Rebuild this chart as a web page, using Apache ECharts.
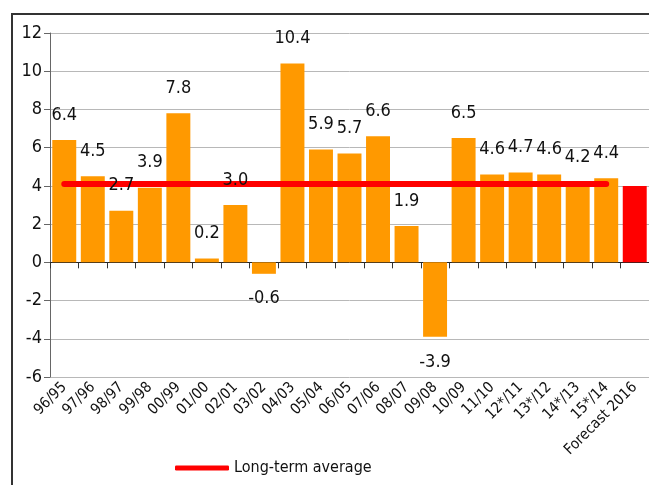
<!DOCTYPE html>
<html>
<head>
<meta charset="utf-8">
<script src="https://cdn.jsdelivr.net/npm/echarts@6/dist/echarts.min.js"></script>
<style>html,body{margin:0;padding:0;background:#fff}#c{width:649px;height:485px}</style>
</head>
<body>
<div id="c"></div>
<script>
var categories = ['96/95','97/96','98/97','99/98','00/99','01/00','02/01','03/02','04/03','05/04','06/05','07/06','08/07','09/08','10/09','11/10','12*/11','13*/12','14*/13','15*/14','Forecast 2016'];
var growth = [6.4, 4.5, 2.7, 3.9, 7.8, 0.2, 3.0, -0.6, 10.4, 5.9, 5.7, 6.6, 1.9, -3.9, 6.5, 4.6, 4.7, 4.6, 4.2, 4.4, 4.0];
var labelled = [true,true,true,true,true,true,true,true,true,true,true,true,true,true,true,true,true,true,true,true,false];
var forecastIndex = 20;
var longTermAverage = [4.1,4.1,4.1,4.1,4.1,4.1,4.1,4.1,4.1,4.1,4.1,4.1,4.1,4.1,4.1,4.1,4.1,4.1,4.1,4.1,null];
var yTicks = {min: -6, max: 12, interval: 2};

var FONT = "'Liberation Sans Narrow','Arial Narrow','DejaVu Sans Condensed',sans-serif";
var chart = echarts.init(document.getElementById('c'), null, {renderer: 'canvas'});

var barData = growth.map(function (v, i) {
  return i === forecastIndex ? {value: v, itemStyle: {color: '#FF0000'}} : v;
});
var labelData = growth.map(function (v, i) {
  return {
    value: v,
    label: {
      show: labelled[i],
      position: v < 0 ? 'bottom' : 'top'
    }
  };
});

chart.setOption({
  animation: false,
  backgroundColor: '#fff',
  graphic: [
    {type: 'polyline', shape: {points: [[12, 486], [12, 14], [650, 14]]}, style: {stroke: '#333', lineWidth: 2, fill: null}}
  ],
  grid: {left: 50, right: 0, top: 33, bottom: 108, containLabel: false},
  legend: {
    data: ['Long-term average'],
    left: 170, top: 455,
    icon: 'roundRect',
    itemWidth: 54, itemHeight: 5, itemGap: 4,
    textStyle: {fontFamily: FONT, fontSize: 16, color: '#111'}
  },
  xAxis: [
    {
      type: 'category', data: categories, position: 'bottom',
      axisLine: {show: false, onZero: false},
      axisTick: {show: false},
      axisLabel: {rotate: 45, fontFamily: FONT, fontSize: 15, color: '#111', margin: 8, interval: 0}
    },
    {
      type: 'category', data: categories, position: 'top',
      axisLine: {show: true, onZero: true, lineStyle: {color: '#222', width: 1}},
      axisTick: {show: true, inside: true, interval: 0, length: 6, lineStyle: {color: '#333'}},
      axisLabel: {show: false}
    }
  ],
  yAxis: {
    type: 'value', min: yTicks.min, max: yTicks.max, interval: yTicks.interval,
    axisLine: {show: true, lineStyle: {color: '#666'}},
    axisTick: {show: true, length: 6, lineStyle: {color: '#666'}},
    axisLabel: {fontFamily: FONT, fontSize: 18, color: '#111', margin: 8},
    splitLine: {lineStyle: {color: '#b8b8b8', width: 1}}
  },
  series: [
    {
      type: 'bar', name: 'Growth', data: barData, xAxisIndex: 0,
      barCategoryGap: '16%', itemStyle: {color: '#FF9900'}, z: 1
    },
    {
      type: 'line', name: 'Long-term average', data: longTermAverage, xAxisIndex: 0,
      symbol: 'none', color: '#FF0000',
      lineStyle: {color: '#FF0000', width: 6, cap: 'round'}, z: 3
    },
    {
      type: 'bar', name: 'labels', data: labelData, xAxisIndex: 0,
      barGap: '-100%', barCategoryGap: '16%',
      itemStyle: {color: 'rgba(0,0,0,0)'}, z: 5,
      label: {
        show: true, distance: 16, fontFamily: FONT, fontSize: 18, color: '#111',
        formatter: function (p) { return p.value.toFixed(1); }
      }
    }
  ]
});
</script>
</body>
</html>
